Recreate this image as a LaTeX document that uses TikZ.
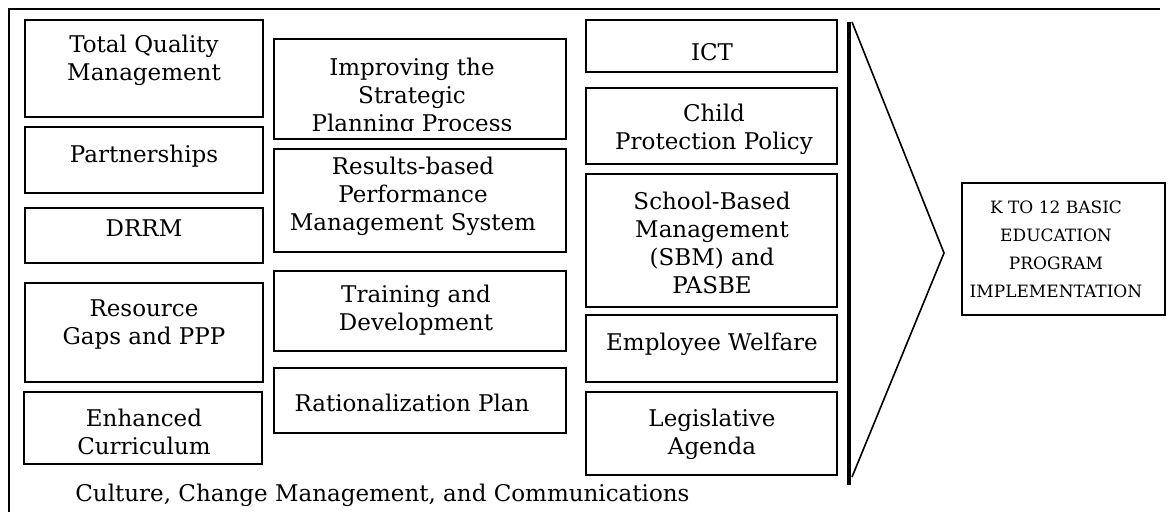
\documentclass[tikz,border=0pt]{standalone}
\usepackage{fontspec}
\setmainfont{DejaVu Serif}
\usetikzlibrary{fit}
\begin{document}
\begin{tikzpicture}[x=0.5pt,y=-0.5pt,
  boxst/.style={draw, line width=1pt, inner sep=0pt},
  txt/.style={align=center, font=\fontsize{11.5}{14}\selectfont, inner sep=0pt},
  ktxt/.style={align=center, font=\fontsize{8.5}{14}\selectfont, inner sep=0pt},
  frame/.style={line width=1pt},
  thick/.style={line width=2pt},
  thin/.style={line width=0.8pt}]
\useasboundingbox (0,0) rectangle (1171,512);
% frame
\coordinate (ftl) at (9,9);
\coordinate (ftr) at (1160,9);
\coordinate (fbl) at (9,512);
\draw[frame] (ftr) -- (ftl) -- (fbl);
% column 1
\node[boxst, fit={(25,20)(263,117)}] (tqm) {};
\node[boxst, fit={(25,127)(263,193)}] (part) {};
\node[boxst, fit={(25,208)(263,263)}] (drrm) {};
\node[boxst, fit={(25,283)(263,382)}] (res) {};
\node[boxst, fit={(24,392)(262,464)}] (enh) {};
\node[txt] (tqm-t) at (144,60) {Total Quality\\Management};
\node[txt] (part-t) at (144,156) {Partnerships};
\node[txt] (drrm-t) at (144,228) {DRRM};
\node[txt] (res-t) at (144,325) {Resource\\Gaps and PPP};
\node[txt] (enh-t) at (144,432) {Enhanced\\Curriculum};
% column 2
\node[boxst, fit={(274,39)(566,139)}] (imp) {};
\node[boxst, fit={(274,149)(566,252)}] (rbp) {};
\node[boxst, fit={(274,271)(566,351)}] (trn) {};
\node[boxst, fit={(274,368)(566,433)}] (rat) {};
\begin{scope}
\clip (274,39) rectangle (566,131);
\node[txt] (imp-t) at (412,97) {Improving the\\Strategic\\Planning Process};
\end{scope}
\node[txt] (rbp-t) at (413,196) {Results-based\\Performance\\Management System};
\node[txt] (trn-t) at (416,310) {Training and\\Development};
\node[txt] (rat-t) at (412,403) {Rationalization Plan};
% column 3
\node[boxst, fit={(586,20)(837,72)}] (ict) {};
\node[boxst, fit={(586,88)(837,164)}] (cpp) {};
\node[boxst, fit={(586,174)(837,307)}] (sbm) {};
\node[boxst, fit={(586,315)(837,382)}] (emp) {};
\node[boxst, fit={(586,392)(837,475)}] (leg) {};
\node[txt] (ict-t) at (712,52) {ICT};
\node[txt] (cpp-t) at (714,129) {Child\\Protection Policy};
\node[txt] (sbm-t) at (712,243) {School-Based\\Management\\(SBM) and\\PASBE};
\node[txt] (emp-t) at (712,344) {Employee Welfare};
\node[txt] (leg-t) at (712,434) {Legislative\\Agenda};
% culture
\node[txt, anchor=west] (cul) at (75,495) {Culture, Change Management, and Communications};
% chevron
\coordinate (cvt) at (849,22);
\coordinate (cvb) at (849,485);
\coordinate (cdt) at (852,22);
\coordinate (cdb) at (852,477);
\coordinate (tip) at (944,253);
\draw[thick] (cvt) -- (cvb);
\draw[thin, line join=miter] (cdt) -- (tip) -- (cdb);
% K to 12
\node[boxst, fit={(962,183)(1165,315)}] (k12) {};
\node[ktxt] (k12-t) at (1056,249) {K TO 12 BASIC\\EDUCATION\\PROGRAM\\IMPLEMENTATION};
\end{tikzpicture}
\end{document}
